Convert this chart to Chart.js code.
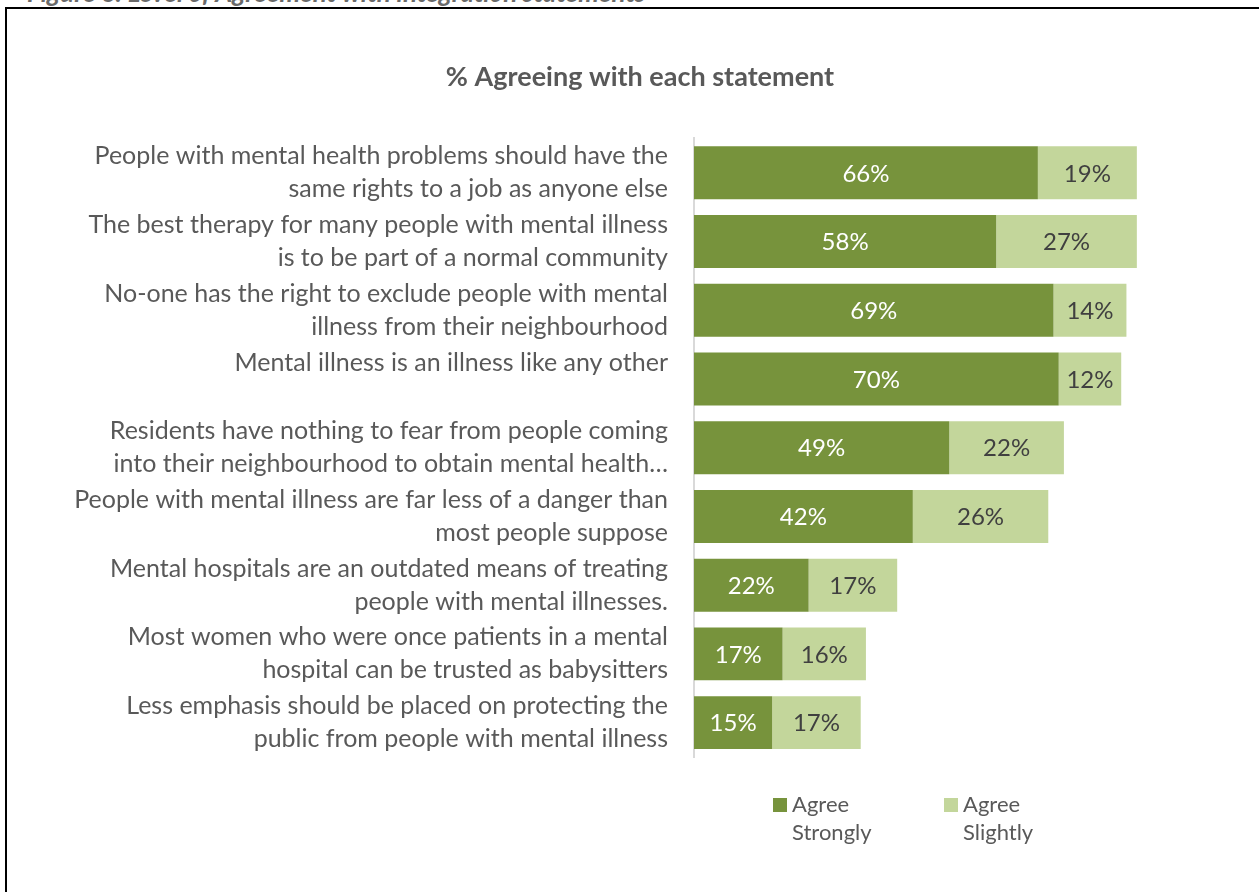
<!DOCTYPE html>
<html>
<head>
<meta charset="utf-8">
<script src="https://cdn.jsdelivr.net/npm/chart.js@4/dist/chart.umd.min.js"></script>
<style>
  html, body { margin: 0; padding: 0; background: #fff; width: 1259px; height: 892px; overflow: hidden; }
  #caption { position: absolute; left: 27px; top: -21px; font: italic bold 26px/26px Lato, sans-serif; color: #6a6a6a; white-space: nowrap; }
  #frame { position: absolute; left: 5px; top: 7px; width: 1300px; height: 900px; border-left: 2px solid #000; border-top: 2px solid #000; }
  #chart { position: absolute; left: 0; top: 0; }
</style>
</head>
<body>
<div id="caption">Figure 6: Level of Agreement with integration statements</div>
<div id="frame">
  <canvas id="chart" width="1266" height="883"></canvas>
</div>
<script>
// statements, one array per label (one entry per printed line)
var statements = [
  ["People with mental health problems should have the", "same rights to a job as anyone else"],
  ["The best therapy for many people with mental illness", "is to be part of a normal community"],
  ["No-one has the right to exclude people with mental", "illness from their neighbourhood"],
  ["Mental illness is an illness like any other", ""],
  ["Residents have nothing to fear from people coming", "into their neighbourhood to obtain mental health\u2026"],
  ["People with mental illness are far less of a danger than", "most people suppose"],
  ["Mental hospitals are an outdated means of treating", "people with mental illnesses."],
  ["Most women who were once patients in a mental", "hospital can be trusted as babysitters"],
  ["Less emphasis should be placed on protecting the", "public from people with mental illness"]
];
var agreeStrongly = [66, 58, 69, 70, 49, 42, 22, 17, 15];
var agreeSlightly = [19, 27, 14, 12, 22, 26, 17, 16, 17];
var seriesNames = [["Agree", "Strongly"], ["Agree", "Slightly"]];

var barColors = ["#77933C", "#C3D69B"];
var valueColors = ["#FFFFFF", "#404040"];
var fontFamily = "Lato, 'Open Sans', sans-serif";

// percentage printed in the middle of each segment
var barValues = {
  id: "barValues",
  afterDatasetsDraw: function(chart) {
    var ctx = chart.ctx;
    ctx.save();
    ctx.font = "24px " + fontFamily;
    ctx.textAlign = "center";
    ctx.textBaseline = "middle";
    chart.data.datasets.forEach(function(ds, i) {
      chart.getDatasetMeta(i).data.forEach(function(bar, j) {
        var p = bar.getProps(["x", "y", "base"], true);
        ctx.fillStyle = valueColors[i];
        ctx.fillText(ds.data[j] + "%", (p.x + p.base) / 2, p.y + 1);
      });
    });
    ctx.restore();
  }
};

// two-line legend under the bars
var legendBelow = {
  id: "legendBelow",
  afterDraw: function(chart) {
    var ctx = chart.ctx, area = chart.chartArea;
    var x = area.left + 79, y = area.bottom + 41;
    ctx.save();
    ctx.font = "22px " + fontFamily;
    ctx.textAlign = "left";
    ctx.textBaseline = "middle";
    chart.data.datasets.forEach(function(ds) {
      ctx.fillStyle = ds.backgroundColor;
      ctx.fillRect(x, y, 14, 14);
      ctx.fillStyle = "#595959";
      ds.label.forEach(function(line, k) {
        ctx.fillText(line, x + 19, y + 7 + k * 28);
      });
      x += 171;
    });
    ctx.restore();
  }
};

new Chart(document.getElementById("chart"), {
  type: "bar",
  data: {
    labels: statements,
    datasets: [
      { label: seriesNames[0], data: agreeStrongly, backgroundColor: barColors[0],
        categoryPercentage: 0.77, barPercentage: 1 },
      { label: seriesNames[1], data: agreeSlightly, backgroundColor: barColors[1],
        categoryPercentage: 0.77, barPercentage: 1 }
    ]
  },
  options: {
    indexAxis: "y",
    responsive: false,
    animation: false,
    layout: { padding: { left: 58, right: 58, top: 0, bottom: 135 } },
    scales: {
      x: { stacked: true, display: false, min: 0, max: 100 },
      y: {
        stacked: true,
        grid: { display: false, drawTicks: false },
        border: { display: true, color: "#D9D9D9", width: 2 },
        ticks: {
          color: "#595959",
          padding: 26,
          autoSkip: false,
          font: { family: fontFamily, size: 25, lineHeight: 1.32 }
        },
        afterFit: function(scale) { scale.width = 629; }
      }
    },
    plugins: {
      legend: { display: false },
      tooltip: { enabled: false },
      title: {
        display: true,
        text: "% Agreeing with each statement",
        color: "#595959",
        font: { family: fontFamily, size: 27, weight: "bold", lineHeight: 1.2 },
        padding: { top: 52, bottom: 45 }
      }
    }
  },
  plugins: [barValues, legendBelow]
});
</script>
</body>
</html>
